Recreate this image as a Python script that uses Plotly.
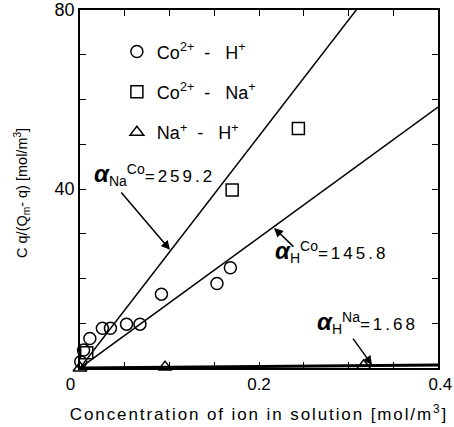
import plotly.graph_objects as go

# Co2+ - H+ (circles)
coh_x = [0.0008, 0.004, 0.011, 0.025, 0.034, 0.052, 0.067, 0.091, 0.153, 0.168]
coh_y = [1.4, 4.0, 6.6, 8.9, 8.9, 9.8, 9.8, 16.5, 18.9, 22.4]
# Co2+ - Na+ (squares)
cona_x = [0.0075, 0.170, 0.244]
cona_y = [3.4, 39.8, 53.5]
# Na+ - H+ (triangles)
nah_x = [0.0, 0.095, 0.317]
nah_y = [0.0, 0.2, 0.5]

# fitted separation factors (slopes of lines through origin)
alpha_na_co = 259.2
alpha_h_co = 145.8
alpha_h_na = 1.68
line_x = [0.0, 0.4]

NB = "\u00a0"
x_ticks = [0, 0.05, 0.1, 0.15, 0.2, 0.25, 0.3, 0.35, 0.4]
x_ticklabels = ["0" + NB * 4, "", "", "", "0.2", "", "", "", NB + "0.4"]
y_ticks = [0, 10, 20, 30, 40, 50, 60, 70, 80]
y_ticklabels = ["", "", "", "", "40", "", "", "", "80"]

FONT = "Arial, Liberation Sans, sans-serif"


def sp(t, ls=2):
    return f"<span style='letter-spacing:{ls}px'>{t}</span>"


fig = go.Figure()

for a, w in [(alpha_na_co, 1.5), (alpha_h_co, 1.5), (alpha_h_na, 3)]:
    fig.add_trace(go.Scatter(x=line_x, y=[a * v for v in line_x], mode="lines",
                             line=dict(color="black", width=w), showlegend=False,
                             hoverinfo="skip"))

S1, S2 = NB * 2, NB * 3
series = [
    (coh_x, coh_y, "circle-open", f"Co<sup>2+</sup>{S1}-{S2}H<sup>+</sup>", "a"),
    (cona_x, cona_y, "square-open", f"Co<sup>2+</sup>{S1}-{S2}Na<sup>+</sup>", "b"),
    (nah_x, nah_y, "triangle-up-open", f"Na<sup>+</sup>{S1}-{S2}H<sup>+</sup>", "c"),
]
for xs, ys, sym, name, grp in series:
    fig.add_trace(go.Scatter(x=xs, y=ys, mode="markers", name=name,
                             marker=dict(symbol=sym, size=12, color="black",
                                         line=dict(color="black", width=1.5)),
                             cliponaxis=False, legendgroup=grp))


def alpha_text(sub, sup, val):
    return ("<span style='font-size:24px'><b><i>α</i></b></span>"
            f"<span style='font-size:20px'><sub>{sub}</sub></span>"
            f"<span style='font-size:20px'><sup>{sup}</sup></span>"
            + sp("=" + val, 3))


annots = [
    dict(x=0.0134, y=43.3, text=alpha_text("Na", "Co", "259.2")),
    dict(x=0.2157, y=26.0, text=alpha_text("H", "Co", "145.8")),
    dict(x=0.2626, y=10.2, text=alpha_text("H", "Na", "1.68")),
]
for a in annots:
    fig.add_annotation(x=a["x"], y=a["y"], text=a["text"], showarrow=False,
                       xanchor="left", yanchor="middle", font=dict(size=17, color="black", family=FONT))

arrows = [
    (0.1006, 26.4, 0.0447, 39.55),
    (0.2168, 31.3, 0.2402, 26.8),
    (0.3263, 0.67, 0.3039, 6.9),
]
for hx, hy, tx, ty in arrows:
    fig.add_annotation(x=hx, y=hy, ax=tx, ay=ty, axref="x", ayref="y", text="",
                       showarrow=True, arrowhead=2, arrowsize=1.2, arrowwidth=1.5,
                       arrowcolor="black")

# y-axis title (placed as rotated text)
fig.add_annotation(xref="paper", yref="paper", x=-0.162, y=0.489,
                   text="C q/(Q<sub>m</sub>- q) [mol/m<sup>3</sup>]", textangle=-90,
                   showarrow=False, xanchor="center", yanchor="middle",
                   font=dict(size=14.5, color="black", family=FONT))

axis_common = dict(showline=True, linecolor="black", linewidth=1.5, mirror="allticks",
                   ticks="inside", ticklen=6, tickwidth=1.2, tickcolor="black",
                   showgrid=False, zeroline=False, automargin=False, tickangle=0,
                   ticklabeloverflow="allow")

fig.update_xaxes(range=[0, 0.4], tickvals=x_ticks, ticktext=x_ticklabels,
                 tickfont=dict(size=17, color="black", family=FONT),
                 title=dict(text=sp("Concentration of ion in solution [mol/m<sup>3</sup>]", 1.9),
                            font=dict(size=17, color="black", family=FONT), standoff=15),
                 **axis_common)
fig.update_yaxes(range=[0, 80], tickvals=y_ticks, ticktext=y_ticklabels,
                 tickfont=dict(size=18, color="black", family=FONT),
                 **axis_common)

fig.update_layout(
    width=454, height=427,
    margin=dict(l=80, r=16, t=10, b=59),
    paper_bgcolor="white", plot_bgcolor="white",
    font=dict(family=FONT, color="black", size=17),
    legend=dict(x=0.103, y=0.935, xanchor="left", yanchor="top", bgcolor="rgba(0,0,0,0)",
                tracegroupgap=14, font=dict(size=18, family=FONT, color="black")),
)

fig.write_html("out.html")
